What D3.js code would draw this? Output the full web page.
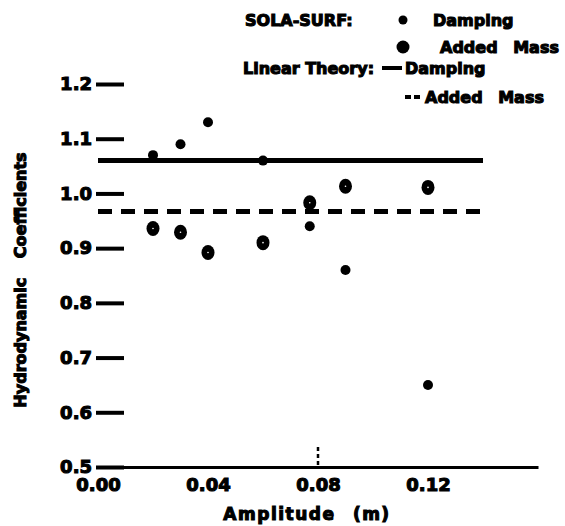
<!DOCTYPE html>
<style>
body { margin: 0; background: #fff; }
text { font-family: "DejaVu Sans", sans-serif; font-weight: bold; fill: #000; stroke: #000; stroke-width: 1.1px; }
.axis .domain { stroke: #000; stroke-width: 3px; }
</style>
<svg width="565" height="526"></svg>
<script src="https://d3js.org/d3.v7.min.js"></script>
<script>

// SOLA-SURF results
var amplitude = [0.02, 0.03, 0.04, 0.06, 0.077, 0.09, 0.12];
var solaDamping = [1.07, 1.09, 1.13, 1.06, 0.94, 0.86, 0.65];
var solaAddedMass = [0.936, 0.929, 0.892, 0.910, 0.983, 1.013, 1.011];

// linear theory
var linearAmp = [0.0, 0.14];
var linearDamping = [1.06, 1.06];
var linearAddedMass = [0.967, 0.967];

var xTicks = [0.00, 0.04, 0.08, 0.12];
var yTicks = [0.5, 0.6, 0.7, 0.8, 0.9, 1.0, 1.1, 1.2];

var svg = d3.select("svg");

var x = d3.scaleLinear().domain([0, 0.16]).range([98, 538]);
var y = d3.scaleLinear().domain([0.5, 1.2]).range([467, 84]);

// x axis: only the baseline plus labels
svg.append("g")
    .attr("class", "axis")
    .attr("transform", "translate(0," + y(0.5) + ")")
    .call(d3.axisBottom(x).tickValues(xTicks).tickSize(0).tickSizeOuter(0).tickPadding(11)
      .tickFormat(d3.format(".2f")))
    .call(function(g) { g.selectAll("text").attr("font-size", 18).attr("font-family", null); });

// little dashed mark over 0.08
svg.append("line")
    .attr("x1", x(0.08)).attr("x2", x(0.08))
    .attr("y1", y(0.5) - 20).attr("y2", y(0.5))
    .attr("stroke", "#000").attr("stroke-width", 2.5)
    .attr("stroke-dasharray", "4,3");

// y axis: short dashes right of the labels, no spine
svg.append("g")
    .attr("class", "axis")
    .attr("transform", "translate(96,0)")
    .call(d3.axisLeft(y).tickValues(yTicks).tickSize(-28).tickPadding(4)
      .tickFormat(d3.format(".1f")))
    .call(function(g) {
      g.select(".domain").remove();
      g.selectAll(".tick line").attr("stroke", "#000").attr("stroke-width", 4);
      g.selectAll("text").attr("font-size", 18).attr("font-family", null);
    });

var line = d3.line()
    .x(function(d) { return x(d[0]); })
    .y(function(d) { return y(d[1]); });

svg.append("path")
    .datum(d3.zip(linearAmp, linearDamping))
    .attr("d", line)
    .attr("fill", "none").attr("stroke", "#000").attr("stroke-width", 5);

svg.append("path")
    .datum(d3.zip(linearAmp, linearAddedMass))
    .attr("d", line)
    .attr("fill", "none").attr("stroke", "#000").attr("stroke-width", 5)
    .attr("stroke-dasharray", "14,9");

// damping points (small dots)
svg.append("g").selectAll("circle")
    .data(d3.zip(amplitude, solaDamping))
    .enter().append("circle")
      .attr("cx", function(d) { return x(d[0]); })
      .attr("cy", function(d) { return y(d[1]); })
      .attr("r", 5);

// added mass points (heavy open ovals, ink nearly filled)
var am = svg.append("g").selectAll("g")
    .data(d3.zip(amplitude, solaAddedMass))
    .enter().append("g")
      .attr("transform", function(d) { return "translate(" + x(d[0]) + "," + y(d[1]) + ")"; });
am.append("ellipse").attr("rx", 6.5).attr("ry", 7.5);
am.append("circle").attr("r", 0.8).attr("fill", "#fff");

// axis titles
svg.append("text")
    .attr("x", 307).attr("y", 514)
    .attr("dy", "0.35em")
    .attr("text-anchor", "middle")
    .attr("font-size", 17)
    .attr("letter-spacing", 1.5)
    .attr("word-spacing", 10)
    .text("Amplitude (m)");

svg.append("text")
    .attr("transform", "translate(20,280) rotate(-90)")
    .attr("dy", "0.35em")
    .attr("text-anchor", "middle")
    .attr("font-size", 16)
    .attr("word-spacing", 14)
    .text("Hydrodynamic Coefficients");

// legend
var legend = svg.append("g").attr("font-size", 16);

legend.append("text").attr("x", 245).attr("y", 20).attr("dy", "0.35em").text("SOLA-SURF:");
legend.append("circle").attr("cx", 403).attr("cy", 20).attr("r", 4.5);
legend.append("text").attr("x", 433).attr("y", 20).attr("dy", "0.35em").text("Damping");

legend.append("ellipse").attr("cx", 403).attr("cy", 47).attr("rx", 6.5).attr("ry", 6.5);
legend.append("text").attr("x", 440).attr("y", 47).attr("dy", "0.35em").attr("word-spacing", 10).text("Added Mass");

legend.append("text").attr("x", 243).attr("y", 68).attr("dy", "0.35em").text("Linear Theory:");
legend.append("line").attr("x1", 382).attr("x2", 402).attr("y1", 68).attr("y2", 68)
    .attr("stroke", "#000").attr("stroke-width", 4);
legend.append("text").attr("x", 405).attr("y", 68).attr("dy", "0.35em").text("Damping");

legend.append("line").attr("x1", 405).attr("x2", 420).attr("y1", 97).attr("y2", 97)
    .attr("stroke", "#000").attr("stroke-width", 4).attr("stroke-dasharray", "6,3");
legend.append("text").attr("x", 425).attr("y", 97).attr("dy", "0.35em").attr("word-spacing", 10).text("Added Mass");

</script>
